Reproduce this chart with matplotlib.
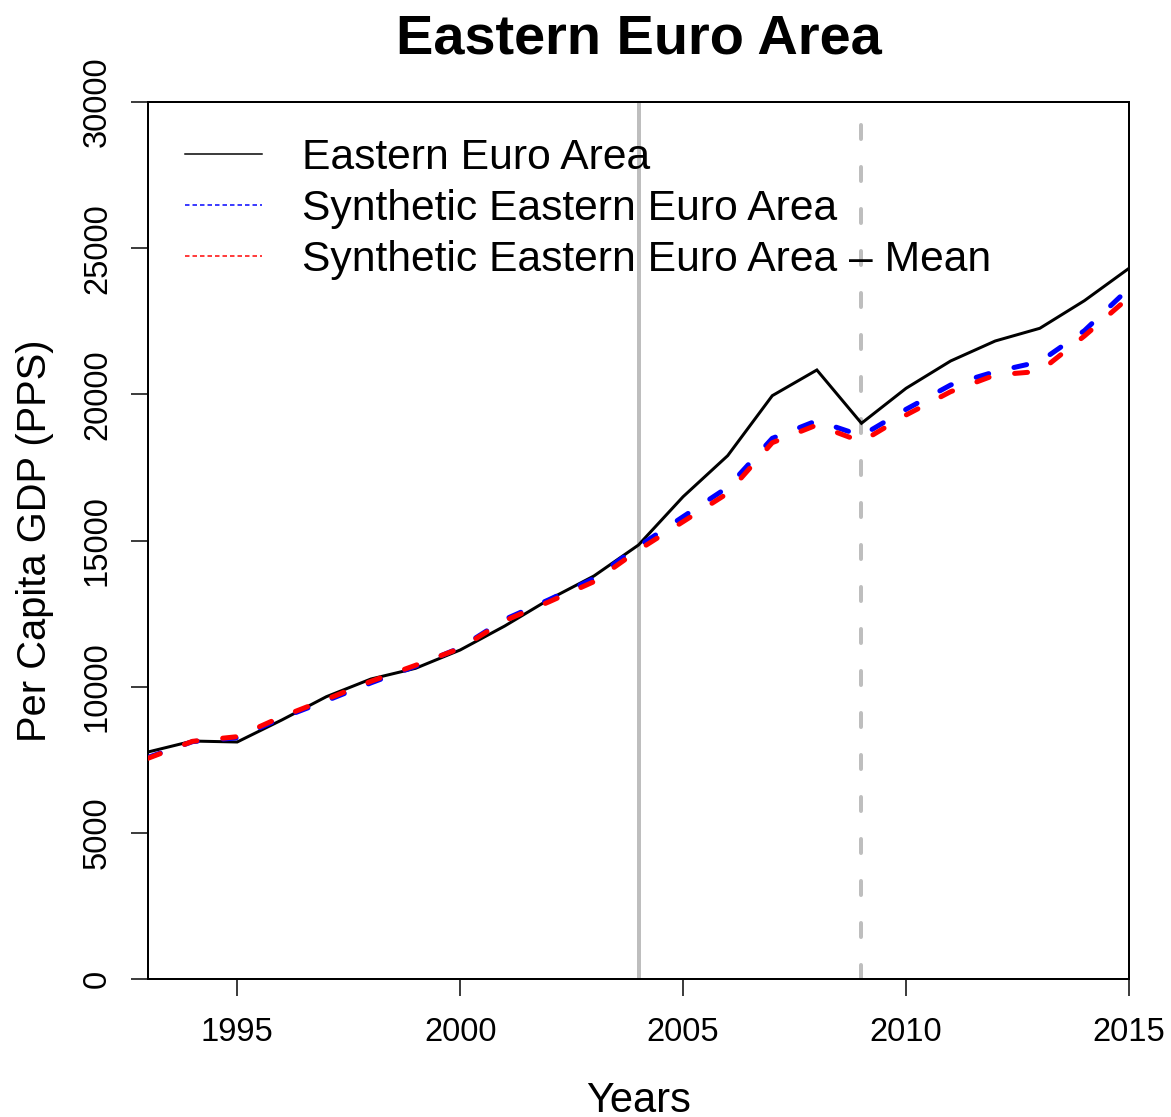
import matplotlib
matplotlib.use("Agg")
import matplotlib.pyplot as plt
from matplotlib.lines import Line2D

plt.rcParams['font.family'] = ['Liberation Sans', 'DejaVu Sans']

years = list(range(1993, 2016))
eastern = [7765, 8140, 8107, 8860, 9657, 10262, 10628, 11254, 12075, 12989, 13786, 14846,
           16498, 17902, 19954, 20833, 19010, 20206, 21141, 21825, 22259, 23204, 24311]
synthetic = [7580, 8120, 8250, 8930, 9520, 10130, 10700, 11330, 12300, 12980, 13700, 14800,
             15814, 16820, 18495, 19098, 18585, 19487, 20320, 20775, 21117, 22178, 23626]
synthetic_mean = [7550, 8131, 8289, 8973, 9567, 10183, 10731, 11312, 12257, 12907, 13591, 14675,
                  15644, 16615, 18346, 18951, 18380, 19293, 20091, 20661, 20786, 21996, 23318]
treat_year = 2004
crisis_year = 2009
labels = ["Eastern Euro Area", "Synthetic Eastern Euro Area", "Synthetic Eastern Euro Area \u2013 Mean"]
xticks = [1995, 2000, 2005, 2010, 2015]
yticks = [0, 5000, 10000, 15000, 20000, 25000, 30000]

PX = 0.72  # points per pixel at 100 dpi

fig = plt.figure(figsize=(11.71, 11.17), dpi=100)
ax = fig.add_axes([148/1171, 138/1117, (1129-148)/1171, (979-102)/1117])

grey = '#BEBEBE'
ax.axvline(treat_year, color=grey, lw=4*PX, zorder=1)
ax.axvline(crisis_year, color=grey, lw=4*PX, linestyle=(0, (14/4, 28/4)),
           dash_capstyle='round', zorder=1)

ax.plot(years, eastern, color='black', lw=3*PX, zorder=3, solid_joinstyle='miter')
lw_d = 5*PX
ax.plot(years, synthetic, color='blue', lw=lw_d, linestyle=(0, (13/5, 26/5)),
        dash_capstyle='round', zorder=4)
ax.plot(years, synthetic_mean, color='red', lw=lw_d, linestyle=(0, (13/5, 26/5)),
        dash_capstyle='round', zorder=5)

ax.set_xlim(1993, 2015)
ax.set_ylim(0, 30000)
ax.set_xticks(xticks)
ax.set_yticks(yticks)
ax.tick_params(axis='both', direction='out', length=17*PX, width=1.5*PX, labelsize=23.5)
ax.tick_params(axis='x', pad=21*PX)
ax.tick_params(axis='y', pad=18*PX)
for lab in ax.get_yticklabels():
    lab.set_rotation(90)
    lab.set_va('center')
for s in ax.spines.values():
    s.set_linewidth(2*PX)

ax.set_title("Eastern Euro Area", fontsize=40.3, fontweight='bold', pad=48*PX)
ax.set_xlabel("Years", fontsize=30, labelpad=33*PX)
ax.set_ylabel("Per Capita GDP (PPS)", fontsize=28.7, labelpad=28*PX)

handles = [
    Line2D([], [], color='black', lw=1.5*PX),
    Line2D([], [], color='blue', lw=1.5*PX, linestyle=(0, (3, 2))),
    Line2D([], [], color='red', lw=1.5*PX, linestyle=(0, (3, 2))),
]
ax.legend(handles, labels, loc='upper left', bbox_to_anchor=(0.02, 0.978), frameon=False,
          fontsize=30.7, handlelength=1.81, handletextpad=0.93, labelspacing=0.25,
          borderaxespad=0)

fig.savefig("out.png", dpi=100)
